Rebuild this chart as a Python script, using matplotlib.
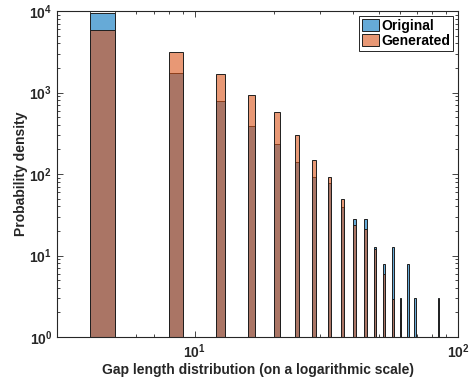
import numpy as np
import matplotlib
matplotlib.use("Agg")
import matplotlib.pyplot as plt
from matplotlib.ticker import LogLocator, NullFormatter

plt.rcParams['font.family'] = ['Liberation Sans', 'DejaVu Sans']
plt.rcParams['font.weight'] = 'bold'
plt.rcParams['mathtext.fontset'] = 'custom'
plt.rcParams['mathtext.rm'] = 'Liberation Sans:bold'
plt.rcParams['mathtext.bf'] = 'Liberation Sans:bold'
plt.rcParams['mathtext.default'] = 'bf'

# gap length bins (left edge, width 1) and densities
gap = [4, 8, 12, 16, 20, 24, 28, 32, 36, 40, 44, 48, 52, 56, 60, 64, 68, 84]
original = [9400, 1720, 787, 392, 231, 139, 91, 77, 39, 27.8, 27.8, 12.8, 7.9, 12.8, 3.0, 7.9, 3.0, 3.0]
generated = [5800, 3170, 1690, 940, 571, 304, 147, 92, 49, 23.7, 21, 11.9, 6.0, 2.95, 1.95, 0, 0, 0]

blue = (0.0, 0.447, 0.741)
orange = (0.85, 0.325, 0.098)

fig = plt.figure(figsize=(4.71, 3.81), dpi=100)
ax = fig.add_axes([57 / 471, 1 - 337 / 381, (458 - 57) / 471, (337 - 11) / 381])

# original first, generated drawn on top (MATLAB-style alpha overlap)
ax.bar(gap, original, width=1, align='edge', bottom=0,
       facecolor=blue + (0.6,), edgecolor=(0.12, 0.12, 0.12), linewidth=0.7, label='Original')
gen_x = [g for g, v in zip(gap, generated) if v > 0]
gen_y = [v for v in generated if v > 0]
ax.bar(gen_x, gen_y, width=1, align='edge', bottom=0,
       facecolor=orange + (0.6,), edgecolor=(0.12, 0.12, 0.12), linewidth=0.7, label='Generated')

ax.set_xscale('log')
ax.set_yscale('log')
ax.set_xlim(3, 100)
ax.set_ylim(1, 1e4)

ax.yaxis.set_major_locator(LogLocator(base=10, numticks=10))
ax.yaxis.set_minor_locator(LogLocator(base=10, subs=np.arange(2, 10), numticks=20))
ax.yaxis.set_minor_formatter(NullFormatter())
ax.xaxis.set_minor_locator(LogLocator(base=10, subs=np.arange(2, 10), numticks=20))
ax.xaxis.set_minor_formatter(NullFormatter())

axcol = '0.15'
for s in ax.spines.values():
    s.set_color(axcol)
    s.set_linewidth(0.8)
ax.tick_params(which='both', direction='in', top=True, right=True, colors=axcol,
               labelsize=10, width=0.6)
ax.tick_params(which='major', length=4)
ax.tick_params(which='minor', length=2.5)
ax.tick_params(axis='x', pad=4)

ax.set_xlabel('Gap length distribution (on a logarithmic scale)', fontsize=10,
              fontweight='bold', color='0.15', labelpad=1)
ax.set_ylabel('Probability density', fontsize=10, fontweight='bold', color='0.15',
              labelpad=1)

leg = ax.legend(loc='upper right', fontsize=10, fancybox=False, framealpha=1,
                edgecolor='0.15', borderaxespad=0.35, handlelength=1.2,
                handleheight=0.9, handletextpad=0.2, borderpad=0.2,
                labelspacing=0.1, prop={'weight': 'bold', 'size': 10})
leg.get_frame().set_linewidth(0.7)

fig.savefig('out.png', dpi=100)
